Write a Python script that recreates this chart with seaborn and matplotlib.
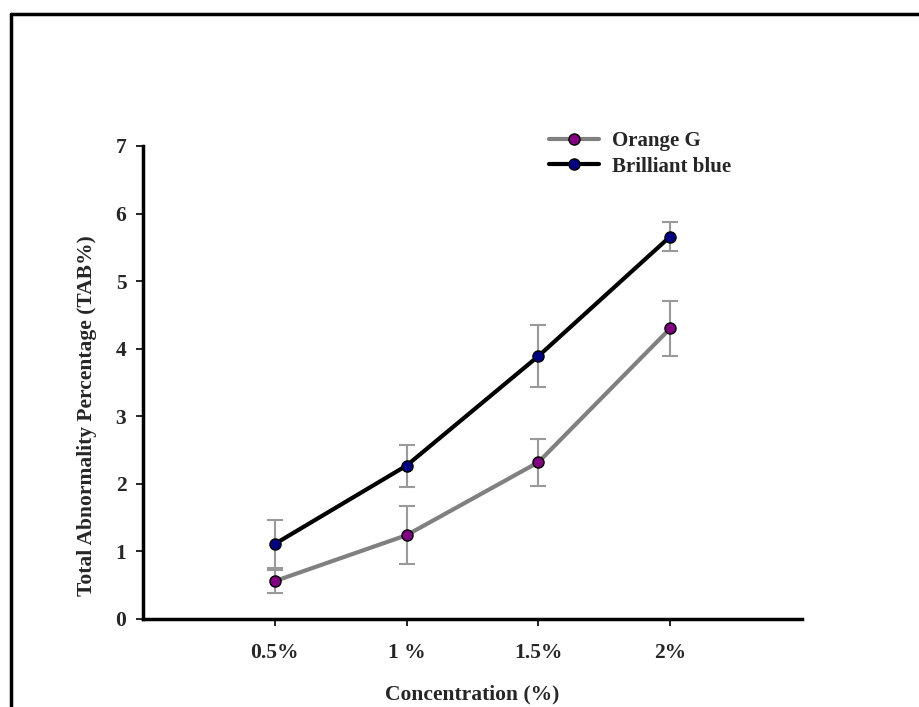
import pandas as pd
import matplotlib.pyplot as plt
import seaborn as sns
from matplotlib.lines import Line2D

# === Data ===
concentrations = ["0.5%", "1 %", "1.5%", "2%"]
orange_g = [0.56, 1.24, 2.32, 4.30]
orange_g_err = [0.17, 0.43, 0.35, 0.41]
brilliant_blue = [1.11, 2.27, 3.89, 5.66]
brilliant_blue_err = [0.35, 0.31, 0.46, 0.21]

df = pd.DataFrame({
    "Concentration": concentrations * 2,
    "TAB": orange_g + brilliant_blue,
    "Dye": ["Orange G"] * 4 + ["Brilliant blue"] * 4,
})

sns.set_style("white")
plt.rcParams["font.family"] = ["Liberation Serif", "DejaVu Serif"]
plt.rcParams["font.weight"] = "bold"

fig = plt.figure(figsize=(9.2, 7.07), dpi=100)
ax = fig.add_axes([0.1554, 0.1245, 0.7163, 0.669])

# error bars first so markers sit on top
x_pos = range(len(concentrations))
ax.errorbar(x_pos, orange_g, yerr=orange_g_err, fmt="none", ecolor="#9a9a9a",
            elinewidth=1.5, capsize=6, capthick=1.5, zorder=1)
ax.errorbar(x_pos, brilliant_blue, yerr=brilliant_blue_err, fmt="none", ecolor="#9a9a9a",
            elinewidth=1.5, capsize=6, capthick=1.5, zorder=1)

sns.lineplot(data=df, x="Concentration", y="TAB", hue="Dye", ax=ax,
             palette={"Orange G": "#808080", "Brilliant blue": "#000000"},
             linewidth=3, marker="o", markersize=8, markeredgecolor="black",
             markeredgewidth=1, legend=False, zorder=2, sort=False)

# marker face colours differ from line colours
for line, face in zip(ax.get_lines()[-2:], ["#800080", "#000080"]):
    line.set_markerfacecolor(face)

ax.set_xlim(-1, 4)
ax.set_ylim(0, 7)
ax.set_yticks(range(0, 8))
ax.set_xticks(list(x_pos))
ax.set_xticklabels(concentrations)

for side in ["top", "right"]:
    ax.spines[side].set_visible(False)
for side in ["left", "bottom"]:
    ax.spines[side].set_linewidth(2.5)
    ax.spines[side].set_color("black")

ax.tick_params(axis="both", direction="out", length=5, width=1.2, color="black",
               labelsize=15.5, left=True, bottom=True)
ax.tick_params(axis="x", pad=12)
ax.tick_params(axis="y", pad=7)
for lab in ax.get_xticklabels() + ax.get_yticklabels():
    lab.set_fontweight("bold")

ax.set_xlabel("Concentration (%)", fontsize=15.5, fontweight="bold", labelpad=16)
ax.set_ylabel("Total Abnormality Percentage (TAB%)", fontsize=15.5, fontweight="bold")
ax.yaxis.set_label_coords(-0.069, 0.43)

handles = [
    Line2D([], [], color="#808080", linewidth=3, marker="o", markersize=8,
           markerfacecolor="#800080", markeredgecolor="black"),
    Line2D([], [], color="#000000", linewidth=3, marker="o", markersize=8,
           markerfacecolor="#000080", markeredgecolor="black"),
]
ax.legend(handles, ["Orange G", "Brilliant blue"], loc="upper left",
          bbox_to_anchor=(0.601, 1.053), frameon=False, borderpad=0,
          handlelength=2.4, handletextpad=0.6,
          prop={"size": 15, "weight": "bold"}, labelspacing=0.25)

# outer chart frame (top and left edges visible)
fig.add_artist(Line2D([0.012, 1.0], [0.9795, 0.9795], color="black", linewidth=2.5))
fig.add_artist(Line2D([0.012, 0.012], [0.0, 0.9795], color="black", linewidth=2.5))

plt.savefig("out.png", dpi=100)
